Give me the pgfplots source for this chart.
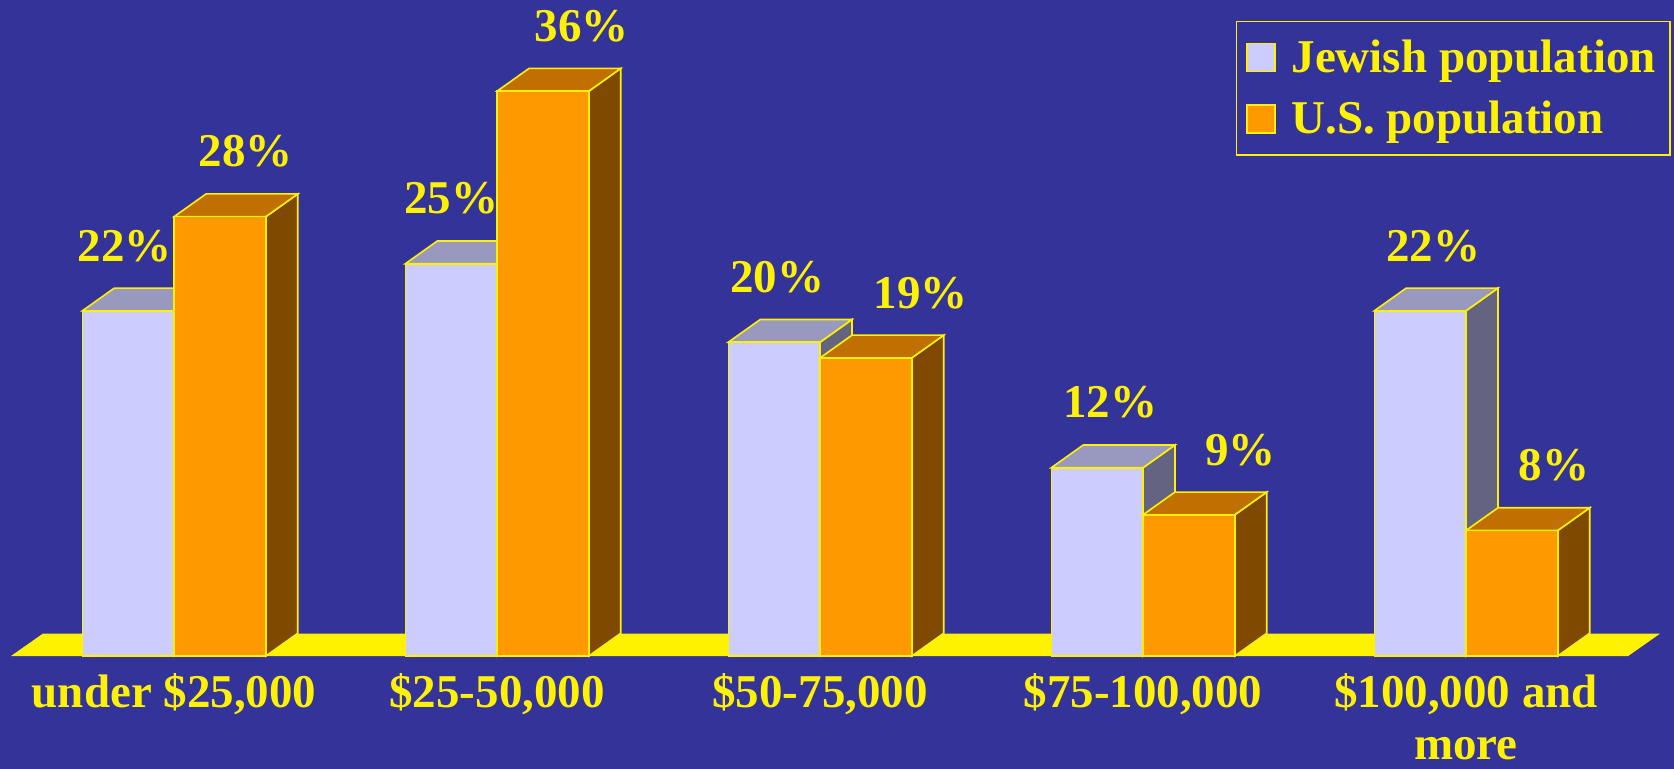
\documentclass[border=0pt]{standalone}
\usepackage{fontspec}
\setmainfont{Liberation Serif}
\usepackage{pgfplots}
\usepackage{pgfplotstable}
\pgfplotsset{compat=1.18}

\definecolor{bgblue}{HTML}{333399}
\definecolor{jewfront}{HTML}{CCCCFF}
\definecolor{jewtop}{HTML}{9999C0}
\definecolor{jewside}{HTML}{646482}
\definecolor{usfront}{HTML}{FF9900}
\definecolor{ustop}{HTML}{BF7000}
\definecolor{usside}{HTML}{7F4A00}

% income share (%) per bracket; jdx/udx = label offsets
\pgfplotstableread{
x jew us jdx udx
0 22 28 -0.01 0.08
1 25 36 0.00 0.12
2 20 19 0.01 0.17
3 12 9 0.04 0.16
4 22 8 0.04 0.13
}\incometable

\newcommand\bw{0.284}
\newcommand\bdx{0.099}
\newcommand\bdy{1.45}
\newcommand\bigfont{\fontsize{23.5}{26}\selectfont\bfseries}

% 3d bar: #1 left x, #2 value, #3 front, #4 top, #5 side
\newcommand\barthreed[5]{%
  \pgfmathsetmacro\xa{#1}%
  \pgfmathsetmacro\xb{#1+\bw}%
  \pgfmathsetmacro\xc{#1+\bw+\bdx}%
  \pgfmathsetmacro\xd{#1+\bdx}%
  \pgfmathsetmacro\va{#2}%
  \pgfmathsetmacro\vb{#2+\bdy}%
  \addplot[forget plot, fill=#5, draw=yellow, line width=0.8pt]
    coordinates {(\xb,0) (\xc,\bdy) (\xc,\vb) (\xb,\va)} -- cycle;
  \addplot[forget plot, fill=#4, draw=yellow, line width=0.8pt]
    coordinates {(\xa,\va) (\xb,\va) (\xc,\vb) (\xd,\vb)} -- cycle;
  \addplot[forget plot, fill=#3, draw=yellow, line width=0.8pt]
    coordinates {(\xa,0) (\xb,0) (\xb,\va) (\xa,\va)} -- cycle;
}

\begin{document}
\begin{tikzpicture}
\begin{axis}[
  scale only axis,
  width=837pt, height=384.5pt,
  xmin=-0.539, xmax=4.644,
  ymin=-7.20, ymax=41.81,
  axis line style={draw=none},
  axis background/.style={fill=bgblue},
  ytick=\empty,
  xtick={0,...,4},
  xticklabels={{under \$25,000},{\$25-50,000},{\$50-75,000},{\$75-100,000},{\$100,000 and\\more}},
  major tick length=0pt,
  xticklabel style={font=\bigfont, text=yellow, align=center, anchor=north, yshift=51.5pt},
  legend cell align=left,
  legend style={at={(0.998,0.973)}, anchor=north east, fill=bgblue, draw=yellow,
    line width=0.8pt, font=\bigfont, text=yellow, inner xsep=5pt, inner ysep=7pt, row sep=9pt,
    /tikz/every odd column/.append style={column sep=6pt}},
  legend image code/.code={\draw[#1, line width=0.6pt] (0pt,-7pt) rectangle (14pt,7pt);},
]
% floor
\addplot[forget plot, fill=yellow, draw=none]
  coordinates {(-0.505,0) (4.502,0) (4.601,1.43) (-0.406,1.43)} -- cycle;

\pgfplotsinvokeforeach{0,...,4}{
  \pgfplotstablegetelem{#1}{jew}\of\incometable \let\vj\pgfplotsretval
  \pgfplotstablegetelem{#1}{us}\of\incometable \let\vu\pgfplotsretval
  \barthreed{#1-0.284}{\vj}{jewfront}{jewtop}{jewside}
  \barthreed{#1}{\vu}{usfront}{ustop}{usside}
}

% value labels
\addplot[forget plot, draw=none, point meta=explicit symbolic,
  nodes near coords={\pgfplotspointmeta\%},
  nodes near coords style={font=\bigfont, text=yellow, anchor=center}]
  table[x expr=\thisrow{x}-0.142+\thisrow{jdx}, y expr=\thisrow{jew}+4.15, meta=jew] {\incometable};
\addplot[forget plot, draw=none, point meta=explicit symbolic,
  nodes near coords={\pgfplotspointmeta\%},
  nodes near coords style={font=\bigfont, text=yellow, anchor=center}]
  table[x expr=\thisrow{x}+0.142+\thisrow{udx}, y expr=\thisrow{us}+4.15, meta=us] {\incometable};

\addlegendimage{fill=jewfront, draw=yellow}
\addlegendentry{Jewish population}
\addlegendimage{fill=usfront, draw=yellow}
\addlegendentry{U.S. population}
\end{axis}
\pgfresetboundingbox
\path[use as bounding box] (current axis.south west) rectangle (current axis.north east);
\end{tikzpicture}
\end{document}
